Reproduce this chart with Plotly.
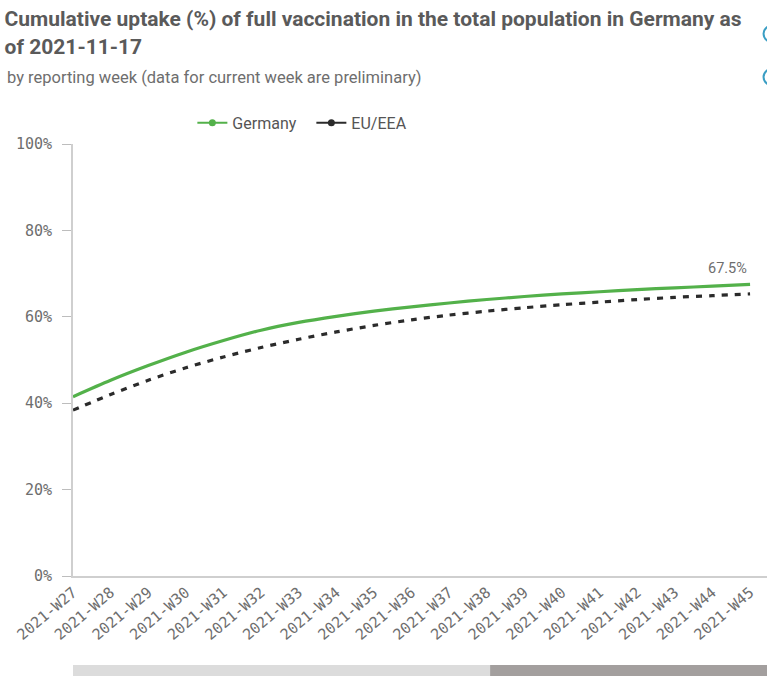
import plotly.graph_objects as go

weeks = ["2021-W27", "2021-W28", "2021-W29", "2021-W30", "2021-W31", "2021-W32", "2021-W33",
         "2021-W34", "2021-W35", "2021-W36", "2021-W37", "2021-W38", "2021-W39", "2021-W40",
         "2021-W41", "2021-W42", "2021-W43", "2021-W44", "2021-W45"]
germany = [41.5, 45.3, 48.7, 51.8, 54.5, 56.9, 58.7, 60.1, 61.3, 62.3, 63.2, 64.0, 64.7,
           65.3, 65.8, 66.3, 66.7, 67.1, 67.5]
eu_eea = [38.4, 42.0, 45.3, 48.2, 50.7, 52.9, 54.8, 56.5, 58.0, 59.3, 60.4, 61.3, 62.1,
          62.8, 63.4, 64.0, 64.5, 64.9, 65.3]
y_ticks = [0, 20, 40, 60, 80, 100]
y_tick_text = ["0%", "20%", "40%", "60%", "80%", "100%"]

GREEN = "#53b14a"
DARK = "#2b2b2b"
TXT = "#6e6e6e"
MONO = "DejaVu Sans Mono"
NARROW = "Liberation Sans Narrow, Roboto, sans-serif"

fig = go.Figure()
fig.add_trace(go.Scatter(x=weeks, y=germany, mode="lines", name="Germany",
                         line=dict(color=GREEN, width=3.2, shape="spline", smoothing=0.8),
                         showlegend=False))
fig.add_trace(go.Scatter(x=weeks, y=eu_eea, mode="lines", name="EU/EEA",
                         line=dict(color=DARK, width=3.2, dash="6px,7px", shape="spline", smoothing=0.8),
                         showlegend=False))
# legend entries
fig.add_trace(go.Scatter(x=[None], y=[None], mode="lines+markers", name="Germany",
                         line=dict(color=GREEN, width=2), marker=dict(color=GREEN, size=7)))
fig.add_trace(go.Scatter(x=[None], y=[None], mode="lines+markers", name="EU/EEA",
                         line=dict(color=DARK, width=2), marker=dict(color=DARK, size=7)))

fig.add_annotation(x=weeks[-1], y=germany[-1], text=f"{germany[-1]}%", showarrow=False,
                   xanchor="right", yanchor="bottom", yshift=5, xshift=-1,
                   font=dict(family="Roboto", size=14.5, color=TXT))

fig.add_annotation(xref="paper", yref="paper", x=-0.098, y=1.155, xanchor="left", yanchor="middle",
                   text="by reporting week (data for current week are preliminary)", showarrow=False,
                   font=dict(family=NARROW, size=16.5, color=TXT))

# scrollbar
fig.add_shape(type="rect", xref="paper", yref="paper", x0=0, x1=0.601, y0=-0.2315, y1=-0.206,
              fillcolor="#dcdcdc", line=dict(width=0), layer="below")
fig.add_shape(type="rect", xref="paper", yref="paper", x0=0.601, x1=1.0, y0=-0.2315, y1=-0.206,
              fillcolor="#a39f9e", line=dict(width=0), layer="below")
# partial circles at right edge
for yc in [1.255, 1.155]:
    fig.add_shape(type="circle", xref="paper", yref="paper", x0=0.995, x1=1.03, y0=yc - 0.022, y1=yc + 0.022,
                  line=dict(color="#3a9ec4", width=2))

fig.update_layout(
    width=767, height=679,
    margin=dict(l=73, r=0, t=144, b=103),
    paper_bgcolor="white", plot_bgcolor="white",
    title=dict(text="Cumulative uptake (%) of full vaccination in the total population in Germany as<br>of 2021-11-17",
               x=0.006, xanchor="left", xref="container", y=0.961, yanchor="top", yref="container",
               font=dict(family=NARROW, size=21, color="#5a5a5a", weight="bold")),
    legend=dict(orientation="h", x=0.172, xanchor="left", y=1.049, yanchor="middle",
                entrywidth=74, entrywidthmode="pixels",
                font=dict(family="Roboto", size=16, color="#555"), bgcolor="rgba(0,0,0,0)"),
    xaxis=dict(type="category", range=[0, 18.45], showgrid=False, showline=True, linecolor="#cfcfcf",
               linewidth=2, ticks="", tickangle=-40, tickfont=dict(family=MONO, size=15, color=TXT),
               zeroline=False),
    yaxis=dict(range=[0, 100], tickvals=y_ticks, ticktext=y_tick_text, showgrid=False, showline=True,
               linecolor="#cfcfcf", linewidth=2, ticks="outside", ticklen=9, tickcolor="#bdbdbd",
               ticklabelstandoff=7,
               tickfont=dict(family=MONO, size=15, color=TXT), zeroline=False),
)

fig.write_html("out.html")
